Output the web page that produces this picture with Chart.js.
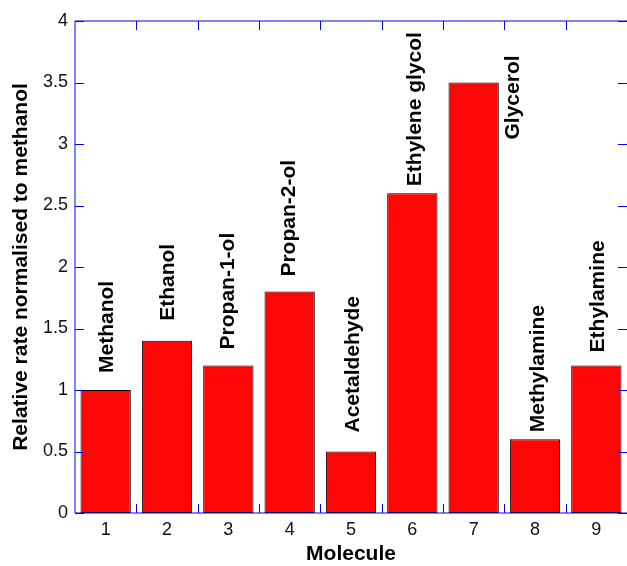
<!DOCTYPE html>
<html>
<head>
<meta charset="utf-8">
<script src="https://cdn.jsdelivr.net/npm/chart.js@4.4.1/dist/chart.umd.min.js"></script>
<style>
body { margin: 0; background: #fff; }
</style>
</head>
<body>
<canvas id="rateChart" width="627" height="566"></canvas>
<script>
const categories = ['1', '2', '3', '4', '5', '6', '7', '8', '9'];
const molecules = ['Methanol', 'Ethanol', 'Propan-1-ol', 'Propan-2-ol', 'Acetaldehyde',
    'Ethylene glycol', 'Glycerol', 'Methylamine', 'Ethylamine'];
const rates = [1, 1.4, 1.2, 1.8, 0.5, 2.6, 3.5, 0.6, 1.2];
const yTicks = [0, 0.5, 1, 1.5, 2, 2.5, 3, 3.5, 4];

// where each molecule name sits: px above the bar top, px to the right of bar centre
const nameGap = [17, 20, 16, 15, 19, 7, -57, 7, 13];
const nameShift = [2, 1, 0, 0, 2, 3, 40, 3, 2];

const axisBlue = '#0000ff';
const boldFont = 'bold 21px "Liberation Sans", Arial, sans-serif';

// frame + inward ticks, matlab style
const frame = {
    id: 'frame',
    afterDatasetsDraw(chart) {
        const { ctx, chartArea: { left, right, top, bottom }, scales: { x, y } } = chart;
        ctx.save();
        ctx.strokeStyle = axisBlue;
        ctx.lineWidth = 1;
        ctx.beginPath();
        ctx.moveTo(left, top); ctx.lineTo(right, top);
        ctx.moveTo(left, top); ctx.lineTo(left, bottom);
        ctx.moveTo(left, bottom); ctx.lineTo(right, bottom);
        ctx.stroke();

        ctx.beginPath();
        for (let i = 0; i < categories.length - 1; i++) {
            let px = Math.round((x.getPixelForValue(i) + x.getPixelForValue(i + 1)) / 2) + 0.5;
            ctx.moveTo(px, top); ctx.lineTo(px, top + 9);
            ctx.moveTo(px, bottom); ctx.lineTo(px, bottom - 9);
        }
        yTicks.forEach(v => {
            let py = Math.round(y.getPixelForValue(v)) + 0.5;
            ctx.moveTo(left, py); ctx.lineTo(left + 9, py);
            ctx.moveTo(right, py); ctx.lineTo(right - 9, py);
        });
        ctx.stroke();
        ctx.restore();
    }
};

const names = {
    id: 'names',
    afterDatasetsDraw(chart) {
        const ctx = chart.ctx;
        const meta = chart.getDatasetMeta(0);
        ctx.save();
        ctx.font = boldFont;
        ctx.fillStyle = '#000';
        ctx.textAlign = 'left';
        ctx.textBaseline = 'middle';
        meta.data.forEach((bar, i) => {
            ctx.save();
            ctx.translate(bar.x + nameShift[i], bar.y - nameGap[i]);
            ctx.rotate(-Math.PI / 2);
            ctx.fillText(molecules[i], 0, 0);
            ctx.restore();
        });
        ctx.restore();
    }
};

const rateChart = new Chart(document.getElementById('rateChart'), {
    type: 'bar',
    data: {
        labels: categories,
        datasets: [{
            data: rates,
            backgroundColor: '#ff0606',
            borderColor: '#000',
            borderWidth: 1,
            borderSkipped: false,
            barPercentage: 0.82,
            categoryPercentage: 1
        }]
    },
    options: {
        responsive: false,
        animation: false,
        devicePixelRatio: 1,
        layout: { padding: { top: 21, right: 0, left: 0, bottom: 0 } },
        scales: {
            x: {
                grid: { display: false, drawTicks: false },
                border: { display: false },
                ticks: {
                    padding: 6,
                    color: '#111',
                    font: { family: '"Liberation Sans", Arial, sans-serif', size: 18 }
                },
                title: {
                    display: true,
                    text: 'Molecule',
                    color: '#000',
                    padding: { top: 0, bottom: -1 },
                    font: { family: '"Liberation Sans", Arial, sans-serif', size: 21, weight: 'bold' }
                },
                afterFit(scale) { scale.height = 53; }
            },
            y: {
                min: 0,
                max: 4,
                grid: { display: false, drawTicks: false },
                border: { display: false },
                afterBuildTicks(scale) { scale.ticks = yTicks.map(v => ({ value: v })); },
                ticks: {
                    padding: 7,
                    color: '#111',
                    font: { family: '"Liberation Sans", Arial, sans-serif', size: 18 },
                    callback: value => String(value)
                },
                title: {
                    display: true,
                    text: 'Relative rate normalised to methanol',
                    color: '#000',
                    padding: { top: 9, bottom: 0 },
                    font: { family: '"Liberation Sans", Arial, sans-serif', size: 21, weight: 'bold' }
                },
                afterFit(scale) { scale.width = 75; }
            }
        },
        plugins: {
            legend: { display: false },
            tooltip: { enabled: false }
        }
    },
    plugins: [frame, names]
});
</script>
</body>
</html>
